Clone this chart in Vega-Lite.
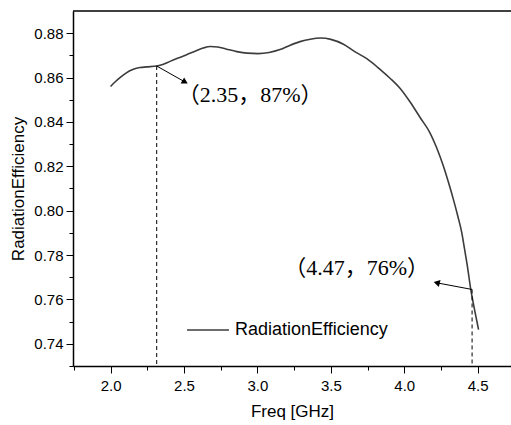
{
  "$schema": "https://vega.github.io/schema/vega-lite/v6.json",
  "width": 438,
  "height": 355,
  "autosize": {"type": "none"},
  "padding": {"left": 73, "top": 11, "right": 0, "bottom": 59},
  "background": "white",
  "config": {
    "view": {"stroke": null},
    "font": "Liberation Sans",
    "axis": {
      "labelFont": "Liberation Sans",
      "titleFont": "Liberation Sans",
      "labelFontSize": 15,
      "titleFontSize": 17,
      "titleFontWeight": "normal",
      "labelColor": "black",
      "titleColor": "black",
      "domainColor": "black",
      "domainWidth": 1.5,
      "tickColor": "black",
      "tickWidth": 1,
      "grid": false
    }
  },
  "resolve": {"axis": {"x": "independent", "y": "independent"}},
  "datasets": {
    "curve": [
      {"freq": 2.0, "eff": 0.8560},
      {"freq": 2.03, "eff": 0.8580},
      {"freq": 2.064, "eff": 0.8600},
      {"freq": 2.1, "eff": 0.8618},
      {"freq": 2.155, "eff": 0.8637},
      {"freq": 2.2, "eff": 0.8645},
      {"freq": 2.246, "eff": 0.8648},
      {"freq": 2.314, "eff": 0.8652},
      {"freq": 2.36, "eff": 0.8660},
      {"freq": 2.405, "eff": 0.8673},
      {"freq": 2.46, "eff": 0.8688},
      {"freq": 2.518, "eff": 0.8703},
      {"freq": 2.58, "eff": 0.8720},
      {"freq": 2.63, "eff": 0.8733},
      {"freq": 2.68, "eff": 0.8740},
      {"freq": 2.73, "eff": 0.8738},
      {"freq": 2.79, "eff": 0.8728},
      {"freq": 2.86, "eff": 0.8717},
      {"freq": 2.93, "eff": 0.8710},
      {"freq": 3.006, "eff": 0.8708},
      {"freq": 3.08, "eff": 0.8713},
      {"freq": 3.154, "eff": 0.8726},
      {"freq": 3.22, "eff": 0.8745},
      {"freq": 3.29, "eff": 0.8762},
      {"freq": 3.36, "eff": 0.8773},
      {"freq": 3.43, "eff": 0.8778},
      {"freq": 3.5, "eff": 0.8772},
      {"freq": 3.586, "eff": 0.8750},
      {"freq": 3.66, "eff": 0.8718},
      {"freq": 3.745, "eff": 0.8685},
      {"freq": 3.835, "eff": 0.8637},
      {"freq": 3.903, "eff": 0.8597},
      {"freq": 3.971, "eff": 0.8552},
      {"freq": 4.04, "eff": 0.8490},
      {"freq": 4.108, "eff": 0.8420},
      {"freq": 4.176, "eff": 0.8350},
      {"freq": 4.22, "eff": 0.8285},
      {"freq": 4.267, "eff": 0.8200},
      {"freq": 4.30, "eff": 0.8130},
      {"freq": 4.335, "eff": 0.8050},
      {"freq": 4.365, "eff": 0.7975},
      {"freq": 4.392, "eff": 0.7900},
      {"freq": 4.41, "eff": 0.7830},
      {"freq": 4.43, "eff": 0.7750},
      {"freq": 4.453, "eff": 0.7645},
      {"freq": 4.48, "eff": 0.7550},
      {"freq": 4.506, "eff": 0.7464}
    ],
    "marks": [
      {"freq": 2.314, "eff": 0.8652, "base": 0.73, "tipFreq": 2.507, "tipEff": 0.8580, "angle": 30, "textFreq": 2.457, "textEff": 0.8522, "label": "（2.35，87%）"},
      {"freq": 4.462, "eff": 0.7645, "base": 0.73, "tipFreq": 4.221, "tipEff": 0.7675, "angle": 194, "textFreq": 3.182, "textEff": 0.7743, "label": "（4.47，76%）"}
    ],
    "border": [{"top": 0.89}]
  },
  "layer": [
    {
      "data": {"name": "curve"},
      "mark": {"type": "line", "interpolate": "monotone", "strokeWidth": 1.6},
      "encoding": {
        "x": {
          "field": "freq", "type": "quantitative",
          "scale": {"domain": [1.744, 4.727], "nice": false, "zero": false},
          "axis": {
            "orient": "bottom",
            "title": "Freq [GHz]",
            "values": [2.0, 2.5, 3.0, 3.5, 4.0, 4.5],
            "format": ".1f",
            "tickSize": 7,
            "labelPadding": 5,
            "titlePadding": 10
          }
        },
        "y": {
          "field": "eff", "type": "quantitative",
          "scale": {"domain": [0.73, 0.89], "nice": false, "zero": false},
          "axis": {
            "orient": "left",
            "title": "RadiationEfficiency",
            "values": [0.74, 0.76, 0.78, 0.80, 0.82, 0.84, 0.86, 0.88],
            "format": ".2f",
            "tickSize": 7,
            "labelPadding": 3,
            "titlePadding": 6
          }
        },
        "color": {
          "datum": "RadiationEfficiency",
          "type": "nominal",
          "scale": {"range": ["#3c3c3c"]},
          "legend": {
            "orient": "none",
            "legendX": 113,
            "legendY": 297,
            "title": null,
            "symbolType": "stroke",
            "symbolSize": 1764,
            "symbolStrokeWidth": 1.5,
            "labelFont": "Liberation Sans",
            "labelFontSize": 18,
            "labelColor": "black",
            "labelOffset": 5,
            "padding": 0
          }
        }
      }
    },
    {
      "data": {"name": "border"},
      "mark": {"type": "rule", "color": "black", "strokeWidth": 1.5},
      "encoding": {
        "y": {
          "field": "top", "type": "quantitative",
          "axis": {
            "orient": "left",
            "title": null,
            "values": [0.73, 0.75, 0.77, 0.79, 0.81, 0.83, 0.85, 0.87],
            "labels": false,
            "domain": false,
            "tickSize": 4
          }
        }
      }
    },
    {
      "data": {"name": "marks"},
      "mark": {"type": "rule", "color": "black", "strokeWidth": 1, "strokeDash": [4, 3]},
      "encoding": {
        "x": {
          "field": "freq", "type": "quantitative",
          "axis": {
            "orient": "bottom",
            "title": null,
            "values": [1.75, 2.25, 2.75, 3.25, 3.75, 4.25],
            "labels": false,
            "domain": false,
            "tickSize": 4
          }
        },
        "y": {"field": "eff", "type": "quantitative", "axis": null},
        "y2": {"field": "base"}
      }
    },
    {
      "data": {"name": "marks"},
      "mark": {"type": "rule", "color": "black", "strokeWidth": 1},
      "encoding": {
        "x": {"field": "freq", "type": "quantitative", "axis": null},
        "y": {"field": "eff", "type": "quantitative", "axis": null},
        "x2": {"field": "tipFreq"},
        "y2": {"field": "tipEff"}
      }
    },
    {
      "data": {"name": "marks"},
      "mark": {"type": "point", "shape": "triangle-right", "filled": true, "color": "black", "size": 50, "opacity": 1},
      "encoding": {
        "x": {"field": "tipFreq", "type": "quantitative", "axis": null},
        "y": {"field": "tipEff", "type": "quantitative", "axis": null},
        "angle": {"field": "angle", "type": "quantitative", "scale": null}
      }
    },
    {
      "data": {"name": "marks"},
      "mark": {"type": "text", "align": "left", "baseline": "middle", "font": "Liberation Serif, Noto Sans CJK SC", "fontSize": 22, "color": "black"},
      "encoding": {
        "x": {"field": "textFreq", "type": "quantitative", "axis": null},
        "y": {"field": "textEff", "type": "quantitative", "axis": null},
        "text": {"field": "label"}
      }
    }
  ]
}
